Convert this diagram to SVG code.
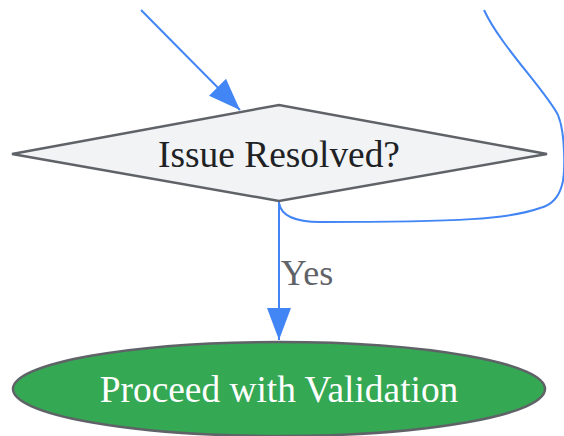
<svg xmlns="http://www.w3.org/2000/svg" width="564" height="436" viewBox="0 0 564 436">
<defs>
<style>
.edge{fill:none;stroke:#4285f4;stroke-width:2}
.lbl{font-family:"Liberation Serif",serif;text-anchor:middle}
</style>
<marker id="ah" markerUnits="userSpaceOnUse" markerWidth="32" markerHeight="24" refX="32" refY="12" orient="auto">
<path d="M0,0 L32,12 L0,24 Z" fill="#4285f4"/>
</marker>
</defs>
<rect width="564" height="436" fill="#ffffff"/>
<g id="connectors">
<path class="edge" d="M141,10 L240,110" marker-end="url(#ah)"/>
<path class="edge" d="M484,10 C500,45 545,90 558,115 C566,135 565,175 562,185 C558,200 548,206 540,208 C510,219 460,222 320,222 C295,222 281,215 279,203"/>
<path class="edge" d="M279,201 L279,340" marker-end="url(#ah)"/>
<text class="lbl" x="307" y="285" fill="#5f6368" font-size="36">Yes</text>
</g>
<g id="decision">
<polygon points="12,154 279,105 547,154 279,201" fill="#f1f3f5" stroke="#5f6368" stroke-width="2.5"/>
<text class="lbl" x="279" y="167" fill="#202124" font-size="37.4">Issue Resolved?</text>
</g>
<g id="proceed">
<ellipse cx="279" cy="389" rx="266" ry="47" fill="#34a853" stroke="#5f6368" stroke-width="2.5"/>
<text class="lbl" x="279" y="402" fill="#ffffff" font-size="37.4">Proceed with Validation</text>
</g>
</svg>
